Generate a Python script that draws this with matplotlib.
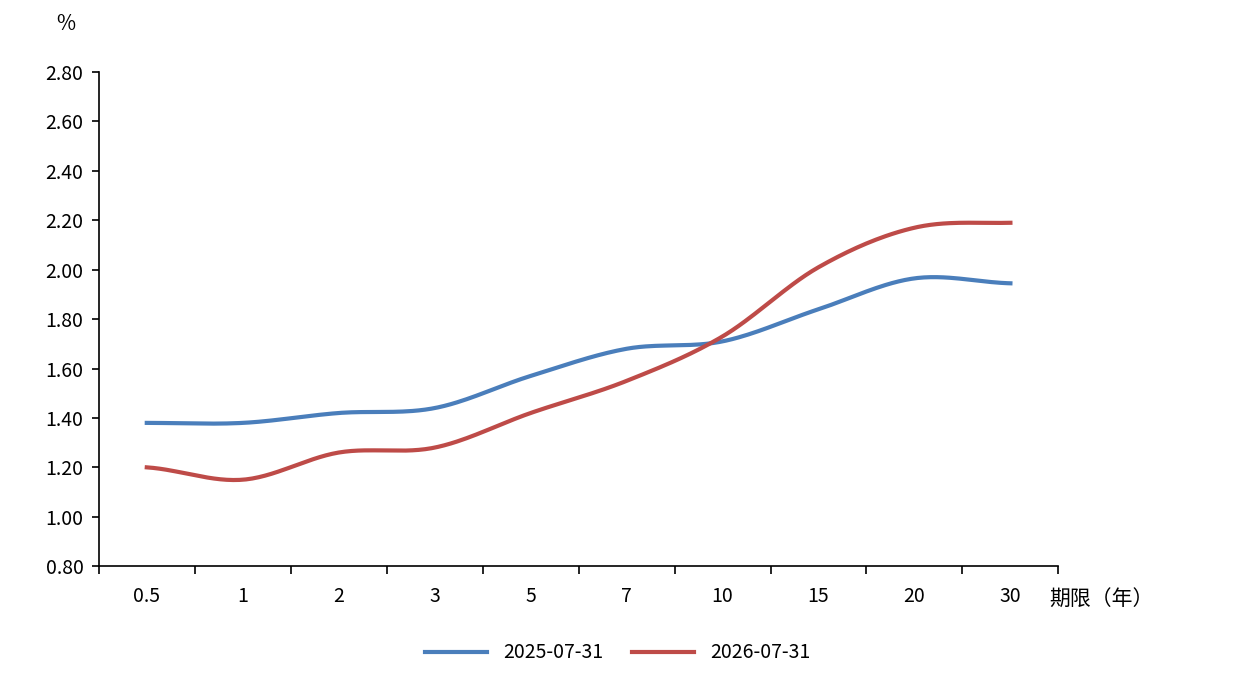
import numpy as np
import matplotlib.pyplot as plt

plt.rcParams['font.family'] = ['Noto Sans CJK SC', 'DejaVu Sans']

terms = ['0.5', '1', '2', '3', '5', '7', '10', '15', '20', '30']
y2025 = [1.38, 1.38, 1.42, 1.44, 1.57, 1.68, 1.71, 1.84, 1.965, 1.945]
y2026 = [1.20, 1.15, 1.26, 1.28, 1.42, 1.55, 1.73, 2.01, 2.17, 2.19]


def smooth(y, n=30):
    # Catmull-Rom, like Excel's smoothed line
    p = np.r_[y[0], y, y[-1]]
    xs, ys = [], []
    for i in range(len(y) - 1):
        t = np.linspace(0, 1, n, endpoint=False)
        p0, p1, p2, p3 = p[i], p[i + 1], p[i + 2], p[i + 3]
        ys.append(0.5 * (2 * p1 + (-p0 + p2) * t + (2 * p0 - 5 * p1 + 4 * p2 - p3) * t ** 2
                         + (-p0 + 3 * p1 - 3 * p2 + p3) * t ** 3))
        xs.append(i + t)
    xs.append([len(y) - 1])
    ys.append([y[-1]])
    return np.concatenate(xs), np.concatenate(ys)


fig = plt.figure(figsize=(12.35, 6.93), dpi=100)
ax = fig.add_axes([0.080, 0.183, 0.777, 0.713])

x, s = smooth(np.array(y2025))
ax.plot(x, s, color='#4a7ebb', lw=3, label='2025-07-31')
x, s = smooth(np.array(y2026))
ax.plot(x, s, color='#be4b48', lw=3, label='2026-07-31')

ax.set_xlim(-0.5, 9.5)
ax.set_ylim(0.8, 2.8)
ax.set_yticks(np.arange(0.8, 2.81, 0.2))
ax.set_yticklabels(['%.2f' % v for v in np.arange(0.8, 2.81, 0.2)], fontsize=14)
ax.set_xticks(range(10))
ax.set_xticklabels(terms, fontsize=14)
ax.set_xticks(np.arange(-0.5, 9.6, 1), minor=True)
ax.tick_params(axis='x', which='major', length=0, pad=14)
ax.tick_params(axis='x', which='minor', length=6, width=1.2)
ax.tick_params(axis='y', length=5, width=1.2, pad=6)
for side in ['top', 'right']:
    ax.spines[side].set_visible(False)
for side in ['left', 'bottom']:
    ax.spines[side].set_linewidth(1.2)

fig.text(0.053, 0.965, '%', fontsize=15, ha='center', va='center')
fig.text(0.850, 0.134, '期限（年）', fontsize=15, ha='left', va='center')
fig.legend(loc='center', bbox_to_anchor=(0.5, 0.058), ncol=2, frameon=False,
           fontsize=14, handlelength=3.2, columnspacing=1.5)

fig.savefig('out.png')
